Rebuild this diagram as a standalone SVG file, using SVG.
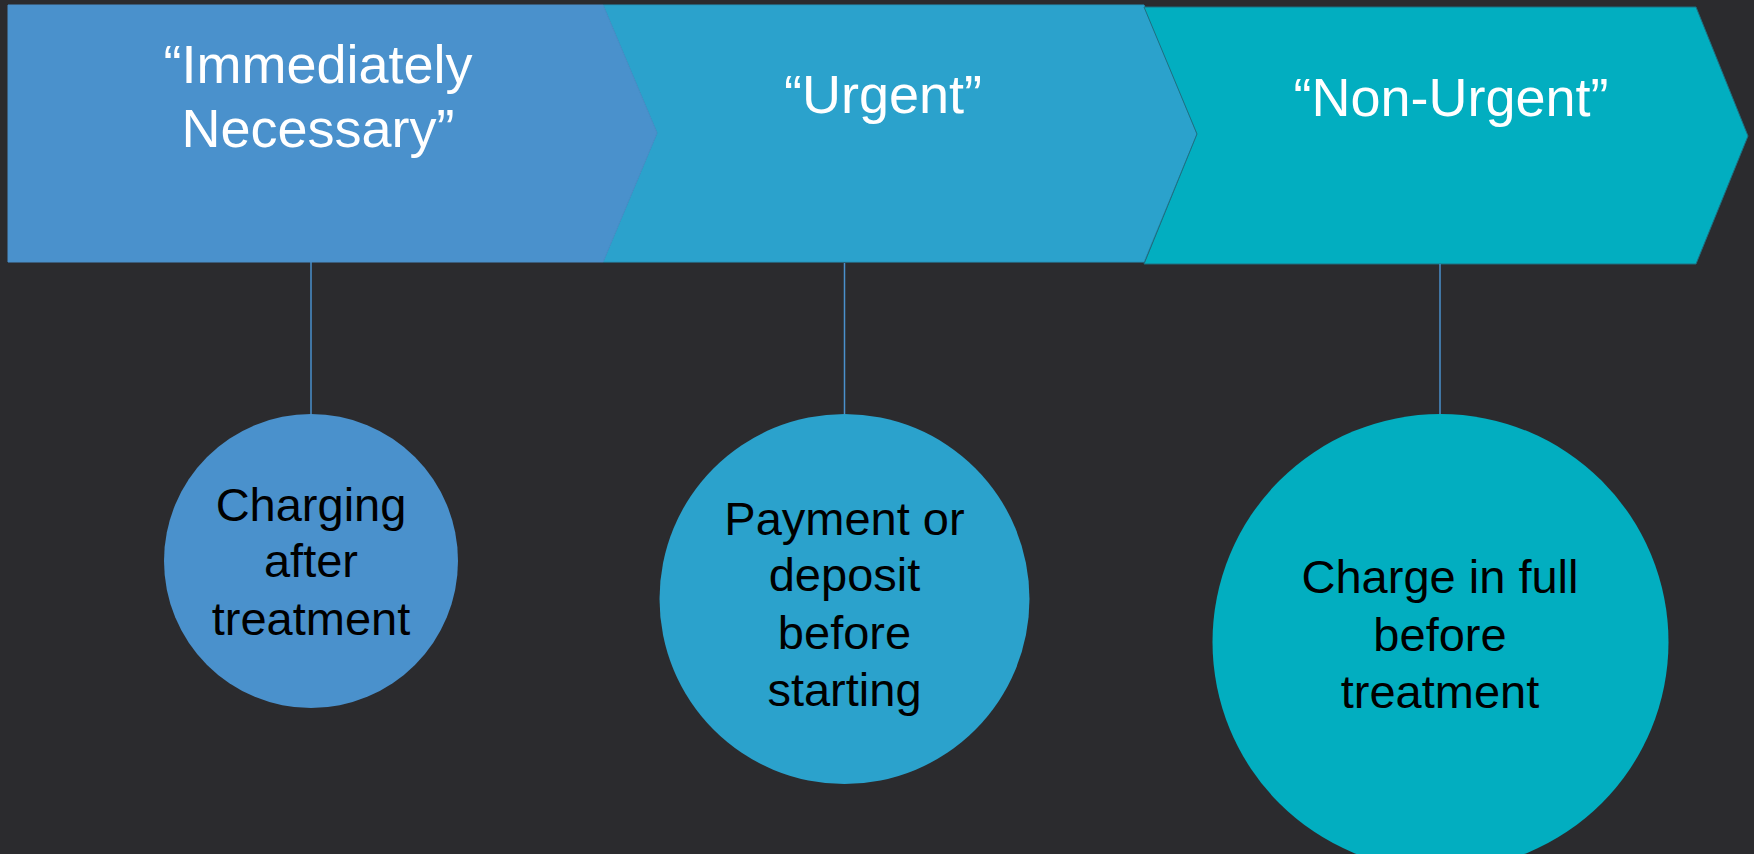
<svg xmlns="http://www.w3.org/2000/svg" width="1754" height="854" viewBox="0 0 1754 854">
<style>
.hd{font-family:"Liberation Sans",Arial,sans-serif;font-size:54px;fill:#ffffff;text-anchor:middle}
.ct{font-family:"Liberation Sans",Arial,sans-serif;font-size:47px;fill:#000000;text-anchor:middle}
.ln{stroke:#4a90cc;stroke-width:1.5;fill:none}
</style>
<rect x="0" y="0" width="1754" height="854" fill="#2b2b2e"/>
<g id="chevron-urgent">
<polygon points="603,5 1144,5 1197,134 1144,262 603,262 657,133" fill="#2ba2cc" stroke="#2795bd" stroke-width="1"/>
<text class="hd" x="883" y="113">“Urgent”</text>
</g>
<g id="chevron-non-urgent">
<polygon points="1144,7 1696,7 1748,136 1696,264 1144,264 1197,134" fill="#02aec0" stroke="#1f6f80" stroke-width="1"/>
<text class="hd" x="1451" y="116">“Non-Urgent”</text>
</g>
<g id="chevron-immediate">
<polygon points="8,5 603,5 657,133 603,262 8,262" fill="#4a91cc" stroke="#4a8fc9" stroke-width="1"/>
<text class="hd" x="318" y="83">“Immediately</text>
<text class="hd" x="318" y="147">Necessary”</text>
</g>
<g id="connectors">
<line class="ln" x1="311" y1="262" x2="311" y2="414"/>
<line class="ln" x1="844.5" y1="263" x2="844.5" y2="414"/>
<line class="ln" x1="1440" y1="264" x2="1440" y2="414"/>
</g>
<g id="circle-charging-after">
<circle cx="311" cy="561" r="147" fill="#4a91cc"/>
<text class="ct" x="311" y="521">Charging</text>
<text class="ct" x="311" y="577">after</text>
<text class="ct" x="311" y="635">treatment</text>
</g>
<g id="circle-payment-deposit">
<circle cx="844.5" cy="599" r="185" fill="#2ba2cc"/>
<text class="ct" x="844.5" y="535">Payment or</text>
<text class="ct" x="844.5" y="591">deposit</text>
<text class="ct" x="844.5" y="649">before</text>
<text class="ct" x="844.5" y="706">starting</text>
</g>
<g id="circle-charge-full">
<circle cx="1440.5" cy="642" r="228" fill="#02aec0"/>
<text class="ct" x="1440" y="593">Charge in full</text>
<text class="ct" x="1440" y="651">before</text>
<text class="ct" x="1440" y="708">treatment</text>
</g>
</svg>
